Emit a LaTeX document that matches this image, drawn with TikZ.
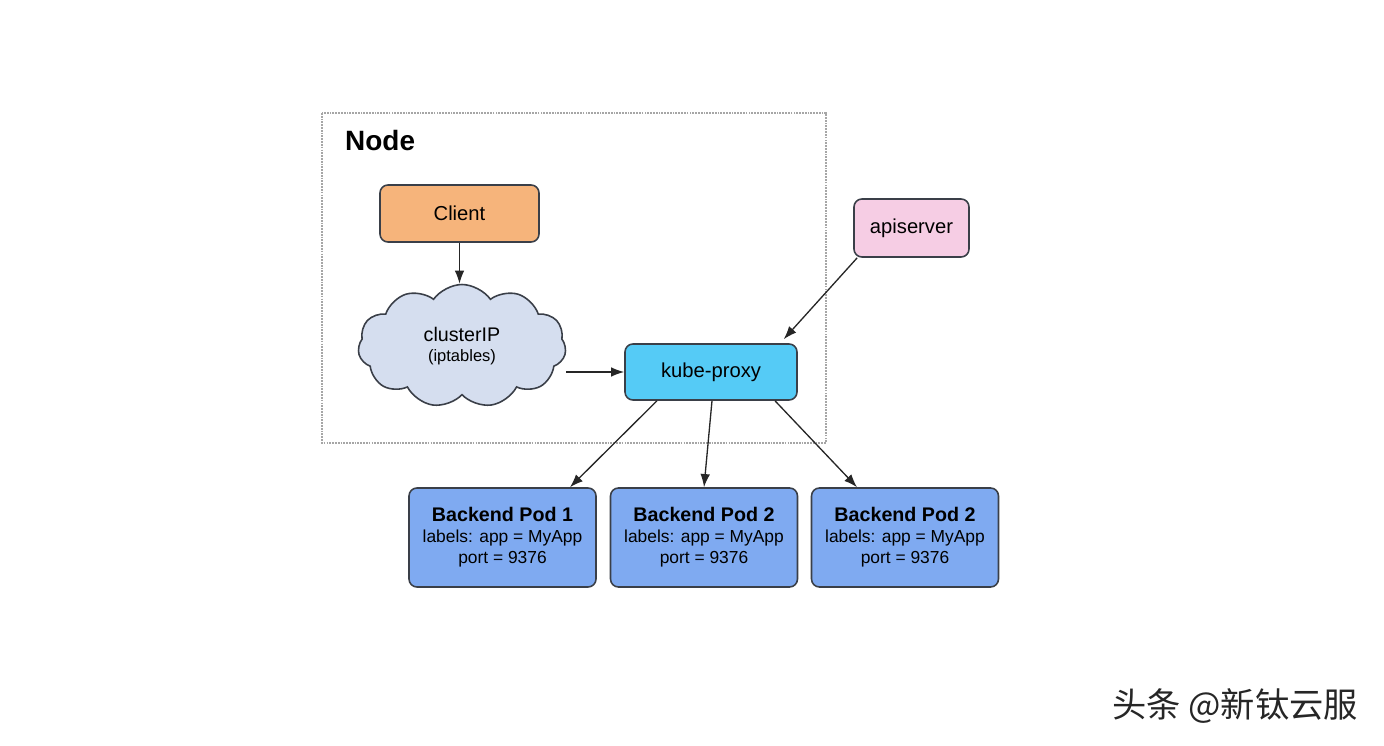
\documentclass[tikz,border=0pt]{standalone}
\usepackage{fontspec}
\setmainfont{Liberation Sans}
\newfontfamily\cjk{Noto Sans CJK SC}
\usetikzlibrary{shapes.symbols,calc,arrows.meta}
\definecolor{clientorange}{HTML}{F6B47B}
\definecolor{cloudblue}{HTML}{D5DEEF}
\definecolor{proxycyan}{HTML}{55CBF6}
\definecolor{podblue}{HTML}{7FAAF1}
\definecolor{apipink}{HTML}{F6CDE4}
\definecolor{edgegray}{HTML}{3A3F48}
\begin{document}
\begin{tikzpicture}[x=0.02cm,y=-0.02cm,
    box/.style={draw=edgegray,line width=0.9pt,rounded corners=4.5pt,align=center,
      font=\fontsize{11.5}{13}\selectfont},
    pod/.style={box,fill=podblue,minimum width=3.74cm,minimum height=1.98cm,
      font=\fontsize{9.9}{12}\selectfont},
    link/.style={-{Latex[length=7.5pt,width=5.5pt]},line width=0.75pt,black!85}]
    \useasboundingbox (0,0) rectangle (1384,746);
    \draw [gray!70,dash pattern=on 1pt off 0.6pt,line width=0.6pt] (322,113) rectangle (826,443);
    \node [anchor=west,font=\bfseries\fontsize{15.9}{18}\selectfont] (nodelbl) at (339,141) {Node};
    \node [box,fill=clientorange,minimum width=3.18cm,minimum height=1.14cm] (client) at (459.5,213.5) {Client};
    \node [cloud,cloud puffs=11,cloud puff arc=110,aspect=1.7,draw=edgegray,line width=0.9pt,fill=cloudblue,
      minimum width=4.16cm,minimum height=2.46cm,align=center,inner sep=0pt] (cip) at (462,346)
      {{\fontsize{11.2}{12}\selectfont clusterIP}\\[-1pt]{\fontsize{9.4}{11}\selectfont (iptables)}};
    \node [box,fill=proxycyan,minimum width=3.44cm,minimum height=1.12cm] (kp) at (711,372) {kube-proxy};
    \node [box,fill=apipink,minimum width=2.3cm,minimum height=1.16cm] (api) at (911.5,228) {apiserver};
    \node [pod] (pod1) at (502.5,537.5) {{\bfseries\fontsize{11.2}{12}\selectfont Backend Pod 1}\\labels: app = MyApp\\port = 9376};
    \node [pod] (pod2) at (704,537.5) {{\bfseries\fontsize{11.2}{12}\selectfont Backend Pod 2}\\labels: app = MyApp\\port = 9376};
    \node [pod] (pod3) at (905,537.5) {{\bfseries\fontsize{11.2}{12}\selectfont Backend Pod 2}\\labels: app = MyApp\\port = 9376};
    \draw [link] (client.south) -- (client.south |- cip.north);
    \draw [link] (cip.east |- kp.west) -- (kp.west);
    \draw [link] ([xshift=0.08cm]api.south west) -- ([xshift=-0.28cm,yshift=0.08cm]kp.north east);
    \draw [link] ([xshift=-1.08cm]kp.south) -- ([xshift=1.35cm]pod1.north);
    \draw [link] ([xshift=0.02cm]kp.south) -- (pod2.north);
    \draw [link] ([xshift=1.28cm]kp.south) -- ([xshift=-0.96cm]pod3.north);
    \node [font=\cjk\fontsize{19.5}{22}\selectfont,black!85] (mark) at (1235,706) {头条 @新钛云服};
\end{tikzpicture}
\end{document}
